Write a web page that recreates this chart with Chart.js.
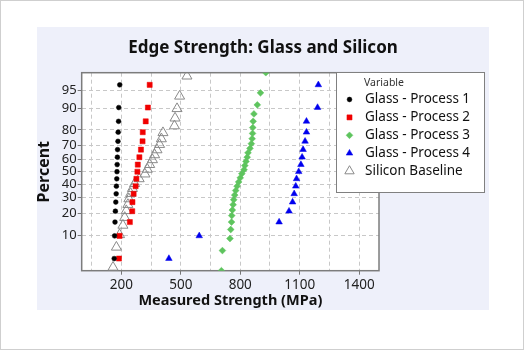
<!DOCTYPE html>
<html>
<head>
<meta charset="utf-8">
<script src="https://cdn.jsdelivr.net/npm/chart.js@4.4.1/dist/chart.umd.min.js"></script>
<style>
  html, body { margin: 0; padding: 0; background: #ffffff; }
  #page { position: relative; width: 524px; height: 350px; overflow: hidden; }
  #edge { position: absolute; left: 0; top: 0; width: 522px; height: 348px; border: 1px solid #cfcfcf; }
  #panel { position: absolute; left: 37px; top: 27px; width: 452px; height: 283px; background: #eef0fa; }
  canvas { display: block; }
</style>
</head>
<body>
<div id="page">
  <div id="edge"></div>
  <div id="panel"><canvas id="chart" width="452" height="283"></canvas></div>
</div>
<script>
// ---- data: measured strength (MPa) and cumulative percent for each sample ----
const seriesNames = ['Glass - Process 1', 'Glass - Process 2', 'Glass - Process 3', 'Glass - Process 4', 'Silicon Baseline'];

const glass1Strength = [164, 166, 168, 170, 172, 174, 175, 177, 178, 179, 180, 181, 183, 184, 186, 187, 192];
const glass1Percent  = [4.0, 9.8, 15.5, 21.3, 27.0, 32.8, 38.5, 44.3, 50.0, 55.7, 61.5, 67.2, 73.0, 78.7, 84.5, 90.2, 96.0];

const glass2Strength = [188, 191, 243, 255, 256, 262, 272, 276, 281, 283, 291, 299, 307, 308, 323, 334, 343];
const glass2Percent  = [4.0, 9.8, 15.5, 21.3, 27.0, 32.8, 38.5, 44.3, 50.0, 55.7, 61.5, 67.2, 73.0, 78.7, 84.5, 90.2, 96.0];

const glass3Strength = [705, 710, 748, 752, 756, 757, 760, 764, 767, 772, 777, 784, 792, 800, 808,
                        819, 823, 829, 835, 839, 849, 856, 860, 862, 863, 865, 869, 886, 902, 929];
const glass3Percent  = [2.3, 5.6, 8.9, 12.2, 15.5, 18.8, 22.0, 25.3, 28.6, 31.9, 35.2, 38.5, 41.8, 45.1, 48.4,
                        51.6, 54.9, 58.2, 61.5, 64.8, 68.1, 71.4, 74.7, 78.0, 81.3, 84.5, 87.8, 91.1, 94.4, 97.7];

const glass4Strength = [440, 593, 996, 1046, 1064, 1072, 1080, 1084, 1095, 1106, 1112, 1117, 1127, 1134, 1134, 1190, 1194];
const glass4Percent  = [4.0, 9.8, 15.5, 21.3, 27.0, 32.8, 38.5, 44.3, 50.0, 55.7, 61.5, 67.2, 73.0, 78.7, 84.5, 90.2, 96.0];

const siliconStrength = [158, 175, 191, 208, 217, 225, 233, 238, 247, 256, 267, 290, 319,
                         331, 343, 357, 368, 380, 393, 402, 410, 468, 471, 481, 494, 531];
const siliconPercent  = [2.7, 6.4, 10.2, 14.0, 17.8, 21.6, 25.4, 29.2, 33.0, 36.7, 40.5, 44.3, 48.1,
                         51.9, 55.7, 59.5, 63.3, 67.0, 70.8, 74.6, 78.4, 82.2, 86.0, 89.8, 93.6, 97.3];

// ---- axes ----
const xTickLabels  = [200, 500, 800, 1100, 1400];
const xGridValues  = [50, 200, 350, 500, 650, 800, 950, 1100, 1250, 1400];
const yTickLabels  = [10, 20, 30, 40, 50, 60, 70, 80, 90, 95];
const xRange = [0, 1500];
const yRange = [2.3, 97.7];

const FONT = '"Noto Sans", "Open Sans", sans-serif';

// ---- normal-probability (probit) helpers ----
function normInv(p) {
  const a = [-39.69683028665376, 220.9460984245205, -275.9285104469687, 138.3577518672690, -30.66479806614716, 2.506628277459239];
  const b = [-54.47609879822406, 161.5858368580409, -155.6989798598866, 66.80131188771972, -13.28068155288572];
  const c = [-0.007784894002430293, -0.3223964580411365, -2.400758277161838, -2.549732539343734, 4.374664141464968, 2.938163982698783];
  const d = [0.007784695709041462, 0.3224671290700398, 2.445134137142996, 3.754408661907416];
  const pl = 0.02425, ph = 1 - pl;
  let q, r;
  if (p < pl) {
    q = Math.sqrt(-2 * Math.log(p));
    return (((((c[0]*q+c[1])*q+c[2])*q+c[3])*q+c[4])*q+c[5]) / ((((d[0]*q+d[1])*q+d[2])*q+d[3])*q+1);
  }
  if (p <= ph) {
    q = p - 0.5; r = q * q;
    return (((((a[0]*r+a[1])*r+a[2])*r+a[3])*r+a[4])*r+a[5])*q / (((((b[0]*r+b[1])*r+b[2])*r+b[3])*r+b[4])*r+1);
  }
  q = Math.sqrt(-2 * Math.log(1 - p));
  return -(((((c[0]*q+c[1])*q+c[2])*q+c[3])*q+c[4])*q+c[5]) / ((((d[0]*q+d[1])*q+d[2])*q+d[3])*q+1);
}
function normCdf(z) {
  const t = 1 / (1 + 0.2316419 * Math.abs(z));
  const y = 0.3989423 * Math.exp(-z * z / 2) *
    t * (0.3193815 + t * (-0.3565638 + t * (1.781478 + t * (-1.821256 + t * 1.330274))));
  return z > 0 ? 1 - y : y;
}

// Percent axis spaced by normal quantiles
class ProbitScale extends Chart.LinearScale {
  determineDataLimits() {
    this.min = this.options.min;
    this.max = this.options.max;
  }
  buildTicks() {
    return yTickLabels.map(v => ({ value: v }));
  }
  configure() {
    super.configure();
    this._zLo = normInv(this.min / 100);
    this._zHi = normInv(this.max / 100);
  }
  getPixelForValue(value) {
    const z = normInv(value / 100);
    return this.getPixelForDecimal((z - this._zLo) / (this._zHi - this._zLo));
  }
  getValueForPixel(pixel) {
    const dec = this.getDecimalForPixel(pixel);
    return 100 * normCdf(this._zLo + dec * (this._zHi - this._zLo));
  }
}
ProbitScale.id = 'probit';
ProbitScale.defaults = { ticks: { callback: v => String(v) } };
Chart.register(ProbitScale);

function pairs(xs, ps) { return xs.map((x, i) => ({ x: x, y: ps[i] })); }

const styles = [
  { pointStyle: 'circle',   radius: 2.4, fill: '#000000', stroke: '#000000', width: 0.5 },
  { pointStyle: 'rect',     radius: 3.6, fill: '#f00000', stroke: '#f00000', width: 0.5 },
  { pointStyle: 'rectRot',  radius: 3.4, fill: '#5ec45e', stroke: '#5ec45e', width: 0.5 },
  { pointStyle: 'triangle', radius: 3.8, fill: '#0000ee', stroke: '#0000ee', width: 0.5 },
  { pointStyle: 'triangle', radius: 5.8, fill: 'rgba(0,0,0,0)', stroke: '#8a8a8a', width: 1 }
];

const seriesData = [
  pairs(glass1Strength, glass1Percent),
  pairs(glass2Strength, glass2Percent),
  pairs(glass3Strength, glass3Percent),
  pairs(glass4Strength, glass4Percent),
  pairs(siliconStrength, siliconPercent)
];

const datasets = seriesNames.map((name, i) => ({
  label: name,
  data: seriesData[i],
  pointStyle: styles[i].pointStyle,
  pointRadius: styles[i].radius,
  backgroundColor: styles[i].fill,
  borderColor: styles[i].stroke,
  borderWidth: styles[i].width,
  clip: i === 2 ? 0 : undefined
}));

// plot background, frame and the "Variable" key
const decor = {
  id: 'decor',
  beforeDraw(chart) {
    const { ctx, chartArea: a } = chart;
    ctx.save();
    ctx.fillStyle = '#ffffff';
    ctx.fillRect(a.left, a.top, a.right - a.left, a.bottom - a.top);
    ctx.restore();
  },
  beforeDatasetsDraw(chart) {
    const { ctx, chartArea: a } = chart;
    ctx.save();
    ctx.strokeStyle = '#7c7c7c';
    ctx.lineWidth = 1.5;
    ctx.strokeRect(a.left, a.top, a.right - a.left, a.bottom - a.top);
    ctx.restore();
  },
  afterDatasetsDraw(chart) {
    const { ctx } = chart;
    const box = { x: 299, y: 45, w: 149, h: 121 };
    ctx.save();
    ctx.fillStyle = '#ffffff';
    ctx.fillRect(box.x, box.y, box.w, box.h);
    ctx.strokeStyle = '#808080';
    ctx.lineWidth = 1;
    ctx.strokeRect(box.x + 0.5, box.y + 0.5, box.w - 1, box.h - 1);

    ctx.fillStyle = '#333333';
    ctx.font = '10.5px ' + FONT;
    ctx.textBaseline = 'middle';
    ctx.textAlign = 'left';
    ctx.fillText('Variable', box.x + 28, box.y + 11);

    chart.data.datasets.forEach((ds, i) => {
      const y = box.y + 27.5 + i * 17.9;
      const st = styles[i];
      ctx.fillStyle = st.fill;
      ctx.strokeStyle = st.stroke;
      ctx.lineWidth = st.width;
      Chart.helpers.drawPoint(ctx, {
        pointStyle: st.pointStyle,
        radius: i === 4 ? 5.4 : st.radius,
        borderWidth: st.width,
        rotation: 0
      }, box.x + 13.5, y);
      ctx.fillStyle = '#111111';
      ctx.font = '13.5px ' + FONT;
      ctx.fillText(ds.label, box.x + 29, y);
    });
    ctx.restore();
  }
};

new Chart(document.getElementById('chart'), {
  type: 'scatter',
  data: { datasets: datasets },
  plugins: [decor],
  options: {
    responsive: false,
    animation: false,
    events: [],
    layout: { padding: 0 },
    plugins: {
      legend: { display: false },
      tooltip: { enabled: false },
      title: {
        display: true,
        text: 'Edge Strength: Glass and Silicon',
        color: '#111111',
        font: { family: FONT, size: 17, weight: 'bold', lineHeight: 1.2 },
        padding: { top: 10.6, bottom: 14.7 }
      }
    },
    scales: {
      x: {
        type: 'linear',
        min: xRange[0],
        max: xRange[1],
        afterBuildTicks: s => { s.ticks = xGridValues.map(v => ({ value: v })); },
        afterFit: s => { s.height = 39.3; },
        ticks: {
          autoSkip: false,
          maxRotation: 0,
          padding: 2.8,
          color: '#222222',
          font: { family: FONT, size: 13.5 },
          callback: v => (xTickLabels.includes(v) ? String(v) : '')
        },
        grid: {
          color: '#c8c8c8',
          lineWidth: 1,
          tickLength: 4,
          tickColor: c => (c.tick && xTickLabels.includes(c.tick.value) ? '#777777' : 'rgba(0,0,0,0)')
        },
        border: { display: false, dash: [4, 3] },
        title: {
          display: true,
          text: 'Measured Strength (MPa)',
          color: '#111111',
          font: { family: FONT, size: 14.5, weight: 'bold', lineHeight: 1.2 },
          padding: { top: 0, bottom: 0 }
        }
      },
      y: {
        type: 'probit',
        min: yRange[0],
        max: yRange[1],
        afterFit: s => { s.width = 44.7; },
        ticks: {
          padding: 1,
          color: '#222222',
          font: { family: FONT, size: 13 }
        },
        grid: {
          color: '#c8c8c8',
          lineWidth: 1,
          tickLength: 4,
          tickColor: '#777777'
        },
        border: { display: false, dash: [4, 3] },
        title: {
          display: true,
          text: 'Percent',
          color: '#111111',
          font: { family: FONT, size: 16, weight: 'bold', lineHeight: 1 },
          padding: { top: -1, bottom: 0 }
        }
      },
      // empty right-hand band that holds the space beside the plot
      side: {
        type: 'linear',
        position: 'right',
        display: true,
        afterFit: s => { s.width = 110; },
        ticks: { display: false },
        grid: { display: false, drawTicks: false },
        border: { display: false },
        title: { display: false }
      }
    }
  }
});
</script>
</body>
</html>
